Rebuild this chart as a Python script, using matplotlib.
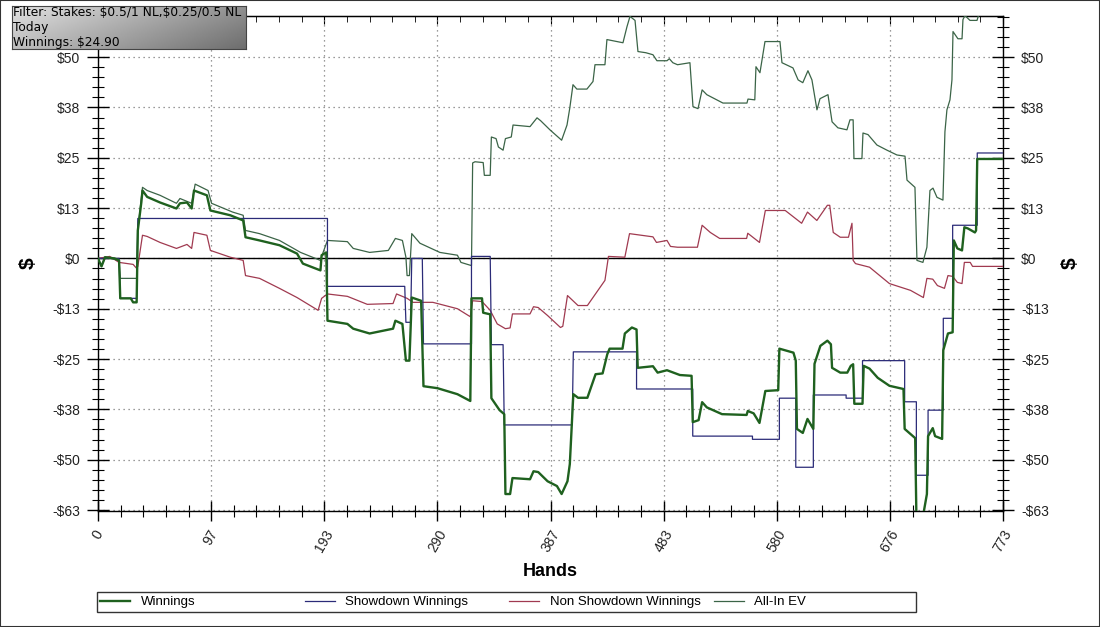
import numpy as np
import matplotlib
matplotlib.use('Agg')
import matplotlib.pyplot as plt
from matplotlib.ticker import MultipleLocator, FuncFormatter
from matplotlib.patches import Rectangle

# (hand, $) breakpoints
winnings = [(0, 0), (3, -2), (6, 0.3), (14, 0), (18, -0.5), (19, -10), (28, -10), (30, -11), (33, -11),
            (34, 7), (37, 14), (38, 17), (42, 15.4), (53, 14), (67, 12.5), (70, 13.8), (76, 14), (80, 12.5),
            (82, 17), (93, 15.8), (96, 12), (113, 10.8), (124, 9.5), (126, 5.3), (138, 4.5), (155, 3.3),
            (170, 1.2), (175, -1.3), (190, -3), (191, 0.8), (195, 1.5), (196, -15.6), (213, -16.4),
            (218, -17.6), (232, -18.8), (252, -17.6), (254, -15.6), (260, -16.4), (263, -25.6), (266, -25.6),
            (268, -9.8), (276, -10.6), (278, -32), (290, -32.5), (307, -34), (318, -35.7), (319, -10),
            (328, -10), (329, -13.6), (335, -14), (336, -35), (343, -38), (347, -39), (348, -59), (352, -59),
            (354, -55), (369, -55.3), (372, -53.3), (376, -53.5), (384, -55.8), (392, -57), (396, -59),
            (401, -55.8), (403, -51.5), (406, -34), (410, -34.9), (418, -34.9), (425, -29), (431, -28.8),
            (435, -24), (437, -22.6), (448, -22.6), (450, -18.8), (456, -17.3), (460, -17.8), (461, -27.4),
            (474, -27), (478, -28.6), (486, -28), (497, -29.2), (507, -29.4), (508, -41), (513, -40.5),
            (516, -36), (520, -37.3), (533, -39), (554, -39.2), (555, -38.2), (560, -38.8), (565, -41.2),
            (570, -33.2), (581, -33), (582, -22.6), (594, -23.6), (596, -25.6), (597, -42.7), (602, -43.7),
            (606, -40.2), (611, -42.7), (612, -26.4), (617, -21.9), (623, -20.6), (626, -21.5), (627, -27.4),
            (634, -28.6), (640, -28.6), (643, -26.9), (645, -26.5), (646, -36.4), (653, -36.4), (654, -26.9),
            (659, -27.6), (666, -29.9), (676, -31.9), (688, -32.7), (689, -42.7), (698, -45), (699, -64),
            (705, -64), (708, -59), (709, -44.5), (713, -42.5), (715, -44.5), (721, -45.2), (722, -23),
            (726, -18.8), (730, -18.5), (731, 4.5), (734, 2.5), (738, 2), (740, 7.8), (743, 7.5), (749, 6.5),
            (750, 7), (751, 24.9), (773, 24.9)]

showdown = [(0, 0), (18, 0), (19, -10), (33, -10), (34, 10), (196, 10), (196, -7), (262, -7), (263, -16),
            (267, -16), (268, 0), (277, 0), (278, -21.4), (319, -21.4), (319, 0.5), (335, 0.5), (336, -21.6),
            (346, -21.6), (347, -41.7), (405, -41.7), (406, -23.4), (460, -23.4), (460, -32.7), (508, -32.7),
            (508, -44.5), (559, -44.5), (559, -45.3), (582, -45.3), (582, -35), (596, -35), (596, -52.3),
            (611, -52.3), (611, -34.2), (639, -34.2), (639, -35), (653, -35), (653, -25.6), (689, -25.6),
            (689, -35.9), (699, -35.9), (699, -54.3), (709, -54.3), (709, -38), (722, -38), (722, -15),
            (730, -15), (730, 8.3), (751, 8.3), (751, 26.4), (773, 26.4)]

non_showdown = [(0, 0), (10, 0.5), (18, -1), (30, -1.5), (33, -2.5), (34, -2), (38, 5.8), (42, 5.5), (53, 4),
                (67, 2.5), (76, 3.5), (80, 2.5), (82, 6.5), (93, 5.8), (96, 2), (113, 0.3), (124, -0.5),
                (126, -4.3), (138, -5), (155, -7.5), (170, -9.8), (188, -13), (191, -10), (196, -8.9),
                (213, -9.5), (230, -11.5), (252, -11.3), (255, -8.9), (264, -10), (269, -11), (286, -11),
                (307, -12.6), (318, -14.6), (320, -10.6), (328, -10.8), (335, -13), (341, -16.4), (348, -17.6),
                (352, -17.4), (354, -13.9), (369, -13.9), (372, -12.1), (376, -12.3), (384, -14.3), (395, -17.3),
                (397, -17), (401, -9.3), (410, -11.8), (418, -11.8), (423, -9.7), (433, -5.5), (436, 0.5),
                (450, 0.3), (454, 6.2), (474, 5.4), (477, 4), (486, 4.5), (489, 3), (495, 2.8), (512, 2.8),
                (516, 8.3), (523, 6.5), (531, 5), (554, 5), (555, 6.3), (565, 4), (570, 12), (587, 12),
                (601, 8.8), (606, 11.6), (614, 9.5), (623, 13.3), (625, 13.3), (628, 6.5), (634, 5.3),
                (641, 5.3), (644, 8.8), (645, -0.5), (647, -1.3), (659, -2.2), (676, -6.3), (694, -8),
                (705, -9.8), (708, -5), (713, -5.2), (717, -6.8), (723, -7.5), (726, -4.3), (730, -4.5),
                (734, -6), (738, -6.3), (740, -1), (745, -1), (747, -2), (773, -2)]

all_in_ev = [(0, 0), (3, -2), (6, 0.3), (18, -0.5), (19, -5), (33, -5), (34, 7), (38, 17.8), (42, 17),
             (53, 15.8), (67, 13.8), (70, 15), (80, 13.8), (83, 18.6), (94, 17), (97, 13.8), (115, 11.6),
             (124, 10.8), (126, 7), (138, 6.2), (155, 4.5), (173, 1.5), (190, -0.5), (191, 0.5), (196, 4.5),
             (213, 4.2), (218, 2.5), (232, 1.5), (248, 2), (254, 5), (260, 4.5), (263, 0.3), (264, -4.3),
             (266, -4.3), (268, 6.2), (275, 3.8), (292, 1.5), (307, 0.8), (310, -1), (319, -1.8), (320, 23.9),
             (322, 24.2), (329, 24), (330, 20.8), (335, 20.8), (336, 30.4), (340, 30), (342, 27.9), (346, 27.1),
             (348, 30), (353, 30.4), (354.5, 33.4), (369, 33), (375, 35.2), (378, 34.5), (386, 32.2),
             (396, 29.6), (400.6, 33.4), (403, 37.7), (405.7, 43.5), (409, 42.4), (417.6, 42.4), (422.8, 44.3),
             (424.5, 48.5), (433, 48.5), (434.7, 54.8), (441.6, 54.4), (448.4, 54), (451.8, 58), (454.4, 60.6),
             (458.7, 59.6), (461.2, 51.8), (468, 51.5), (474, 51), (477.4, 49.5), (486, 49.5), (488, 50),
             (491, 49), (495, 48.5), (505.6, 49), (508.2, 38), (512.5, 37.5), (516, 42.2), (520, 41),
             (533.8, 38.9), (554.3, 38.9), (555.2, 39.9), (561, 39.7), (562, 48), (565.4, 46.5), (569.7, 54.3),
             (582.5, 54.3), (584.2, 49), (593.6, 47.7), (598, 44.7), (602, 44), (606.4, 47), (609.8, 44.7),
             (614.1, 37.2), (616.7, 40), (623.5, 41), (627, 34.2), (632, 32.7), (639.7, 32.2), (642.3, 34.7),
             (645, 34.7), (645.7, 25), (652.5, 25), (653.4, 31.4), (657.7, 31), (665.3, 28.4), (673.9, 27.1),
             (682.4, 25.9), (689.3, 25.6), (691, 19.6), (697.8, 17.8), (699.5, -0.5), (704.6, -1), (708, 2.8),
             (710.6, 17), (713.2, 17.6), (716.6, 15.3), (721.7, 14.6), (723.4, 31.7), (725.1, 37.2),
             (727.7, 39.7), (729.4, 44.7), (730.3, 56.8), (734.5, 55), (738, 55), (738.8, 59.8), (740.5, 60.8),
             (744.8, 59.6), (750.8, 59.6), (753.3, 62), (773, 63)]

series_names = ['Winnings', 'Showdown Winnings', 'Non Showdown Winnings', 'All-In EV']
filter_lines = ['Filter: Stakes: $0.5/1 NL,$0.25/0.5 NL', 'Today', 'Winnings: $24.90']
n_hands = 773

plt.rcParams['font.family'] = ['Liberation Sans', 'DejaVu Sans']

fig = plt.figure(figsize=(11, 6.27), dpi=100)
ax = fig.add_axes([98/1100, 116/627, 905/1100, 495/627])

styles = [(winnings, '#1f611f', 1.7, 5),
          (showdown, '#2b2b78', 0.9, 4),
          (non_showdown, '#a03a50', 0.9, 3),
          (all_in_ev, '#3b6447', 0.9, 3)]
handles = []
for (data, col, lw, z), name in zip(styles, series_names):
    d = np.array(data)
    ln, = ax.plot(d[:, 0], d[:, 1], color=col, lw=lw, zorder=z, label=name)
    handles.append(ln)

ax.axhline(0, color='black', lw=1, zorder=2)
ax.set_xlim(0, n_hands)
ax.set_ylim(-63.25, 60.7)

xmaj = np.linspace(0, n_hands, 9)
ax.set_xticks(xmaj)
ax.set_xticklabels([str(int(np.floor(v + 0.5))) for v in xmaj], rotation=60, ha='center', va='top')
ax.xaxis.set_minor_locator(MultipleLocator(n_hands / 40))

ymaj = -63 + 12.6 * np.arange(10)
ax.set_yticks(ymaj)
ax.yaxis.set_major_formatter(FuncFormatter(
    lambda v, p: ('-$%d' % round(-v)) if v < -0.01 else ('$%d' % round(v))))
ax.yaxis.set_minor_locator(MultipleLocator(2.52))

ax.tick_params(axis='y', which='major', direction='inout', length=16, width=1,
               left=True, right=True, labelleft=True, labelright=True, labelsize=10,
               labelcolor='#222222', pad=5)
ax.tick_params(axis='y', which='minor', direction='inout', length=9, width=0.8, left=True, right=True)
ax.tick_params(axis='x', which='major', direction='inout', length=14, width=1, top=False,
               labelsize=10, labelcolor='#222222', pad=5)
ax.tick_params(axis='x', which='minor', direction='inout', length=8, width=0.8, top=False)

top = ax.secondary_xaxis('top')
top.set_xticks(xmaj)
top.xaxis.set_minor_locator(MultipleLocator(n_hands / 40))
top.tick_params(which='major', direction='in', length=6, labeltop=False)
top.tick_params(which='minor', direction='in', length=4)

ax.grid(which='major', color='#7a7a7a', linestyle=(0, (1, 3)), linewidth=0.9)
for s in ax.spines.values():
    s.set_color('black')
    s.set_linewidth(1)

fig.text(550/1100, 1 - 572/627, 'Hands', fontsize=13, fontweight='bold', ha='center', va='center')
fig.text(28/1100, 1 - 263/627, '$', fontsize=15, fontweight='bold', rotation=90, ha='center', va='center')
fig.text(1070/1100, 1 - 263/627, '$', fontsize=15, fontweight='bold', rotation=90, ha='center', va='center')

# legend: frame plus four equally spaced entries
fig.add_artist(Rectangle((97/1100, 15/627), 819/1100, 20/627, transform=fig.transFigure,
                         fill=False, ec='#333333', lw=1))
for i, h in enumerate(handles):
    fig.legend([h], [series_names[i]], loc='center left',
               bbox_to_anchor=((100 + 204.5 * i)/1100, 1 - 602/627),
               frameon=False, fontsize=9.5, handlelength=2.3, handletextpad=0.8,
               borderpad=0, borderaxespad=0)

# filter info box with grey gradient
bx = fig.add_axes([12/1100, 1 - 49/627, 234/1100, 43/627], zorder=10)
gx, gy = np.meshgrid(np.linspace(0, 1, 200), np.linspace(0, 1, 40))
bx.imshow((225 - 80 * gx - 35 * gy) / 255, cmap='gray', vmin=0, vmax=1, extent=[0, 1, 0, 1],
          aspect='auto', origin='upper')
bx.set_xticks([])
bx.set_yticks([])
for s in bx.spines.values():
    s.set_color('#444444')
for yy, txt in zip([0.84, 0.5, 0.16], filter_lines):
    bx.text(0.005, yy, txt, family='DejaVu Sans', fontsize=8.8, va='center', ha='left',
            color='black', parse_math=False)

fig.add_artist(Rectangle((0, 0), 1, 1, transform=fig.transFigure, fill=False, ec='#333333', lw=1.5))

fig.savefig('out.png', dpi=100)
